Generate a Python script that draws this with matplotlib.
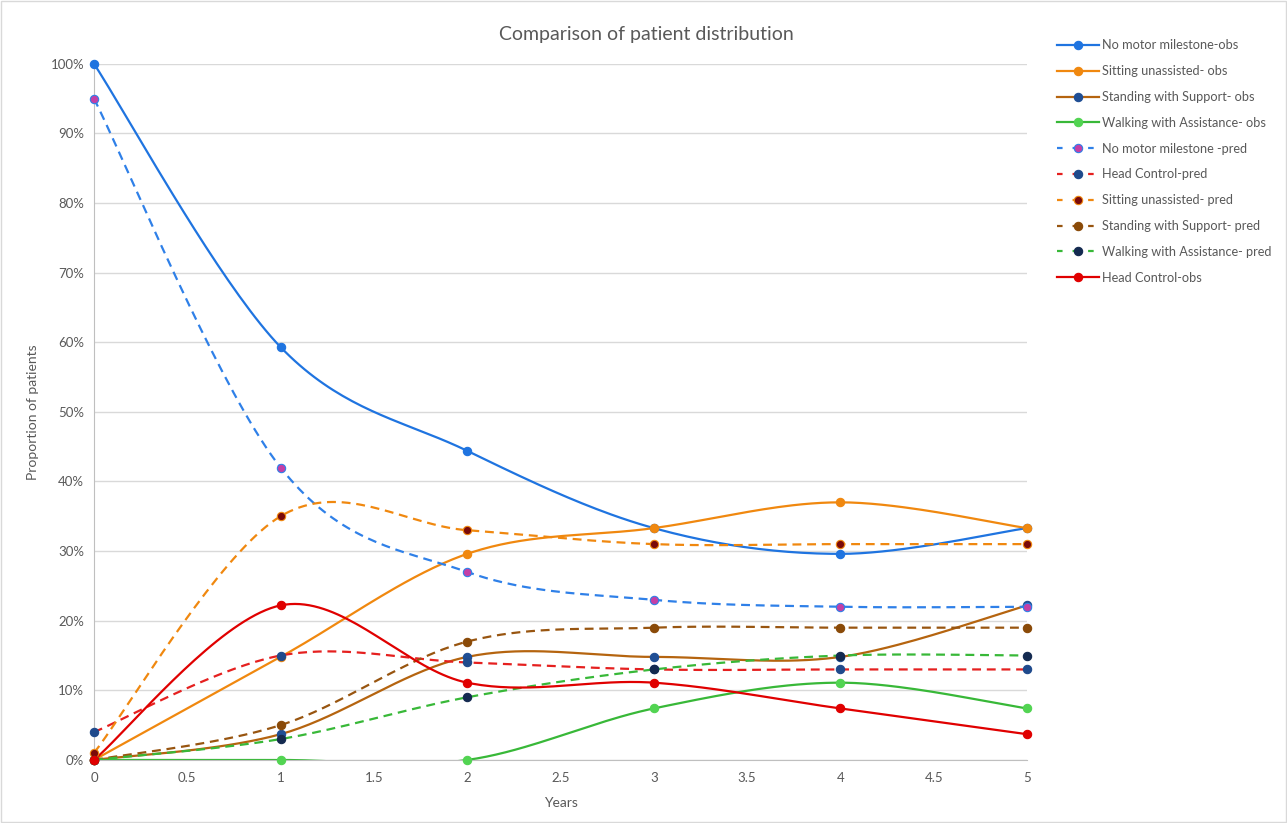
import numpy as np
import matplotlib
matplotlib.use("Agg")
import matplotlib.pyplot as plt
from matplotlib.patches import Rectangle

plt.rcParams['font.family'] = ['Lato', 'DejaVu Sans']

years = [0, 1, 2, 3, 4, 5]

# observed proportions (%)
no_motor_obs = [100, 59.3, 44.4, 33.3, 29.6, 33.3]
sitting_obs = [0, 14.8, 29.6, 33.3, 37.0, 33.3]
standing_obs = [0, 3.7, 14.8, 14.8, 14.8, 22.2]
walking_obs = [0, 0, 0, 7.4, 11.1, 7.4]
head_obs = [0, 22.2, 11.1, 11.1, 7.4, 3.7]

# predicted proportions (%)
no_motor_pred = [95, 42, 27, 23, 22, 22]
head_pred = [4, 15, 14, 13, 13, 13]
sitting_pred = [1, 35, 33, 31, 31, 31]
standing_pred = [0, 5, 17, 19, 19, 19]
walking_pred = [0, 3, 9, 13, 15, 15]


def smooth(x, y, n=40):
    # excel-like smoothed line (catmull-rom bezier)
    x = np.asarray(x, float)
    y = np.asarray(y, float)
    px = np.concatenate([[x[0]], x, [x[-1]]])
    py = np.concatenate([[y[0]], y, [y[-1]]])
    xs, ys = [], []
    t = np.linspace(0, 1, n)
    for i in range(1, len(px) - 2):
        p0 = np.array([px[i], py[i]])
        p3 = np.array([px[i + 1], py[i + 1]])
        c1 = p0 + (p3 - np.array([px[i - 1], py[i - 1]])) / 6
        c2 = p3 - (np.array([px[i + 2], py[i + 2]]) - p0) / 6
        b = ((1 - t) ** 3)[:, None] * p0 + (3 * (1 - t) ** 2 * t)[:, None] * c1 \
            + (3 * (1 - t) * t ** 2)[:, None] * c2 + (t ** 3)[:, None] * p3
        xs.append(b[:, 0])
        ys.append(b[:, 1])
    return np.concatenate(xs), np.concatenate(ys)


series = [
    ("No motor milestone-obs", no_motor_obs, '#1f74e0', '-', '#1f74e0', '#1f74e0'),
    ("Sitting unassisted- obs", sitting_obs, '#f0880f', '-', '#f0880f', '#f0880f'),
    ("Standing with Support- obs", standing_obs, '#b5640f', '-', '#1f4e94', '#1f4e94'),
    ("Walking with Assistance- obs", walking_obs, '#38b838', '-', '#52d452', '#52d452'),
    ("No motor milestone -pred", no_motor_pred, '#2f80e8', '--', '#c33fa6', '#2f80e8'),
    ("Head Control-pred", head_pred, '#e5201f', '--', '#1f4a8c', '#1f4a8c'),
    ("Sitting unassisted- pred", sitting_pred, '#f0880f', '--', '#7a0a0a', '#f0880f'),
    ("Standing with Support- pred", standing_pred, '#985510', '--', '#8a4a08', '#8a4a08'),
    ("Walking with Assistance- pred", walking_pred, '#38b838', '--', '#142a50', '#142a50'),
    ("Head Control-obs", head_obs, '#e00000', '-', '#e00000', '#e00000'),
]

fig = plt.figure(figsize=(12.87, 8.23), dpi=100)
ax = fig.add_axes([0.073, 0.0766, 0.725, 0.846])

handles = []
for name, vals, col, ls, mfc, mec in series:
    yv = np.array(vals) / 100
    sx, sy = smooth(years, yv)
    dash = (4, 2.6) if ls == '--' else None
    if dash:
        ax.plot(sx, sy, color=col, lw=1.6, dashes=dash, zorder=2)
    else:
        ax.plot(sx, sy, color=col, lw=1.6, zorder=2)
    ax.plot(years, yv, ls='none', marker='o', ms=6, mfc=mfc, mec=mec, mew=0.8,
            zorder=3, clip_on=False)
    if dash:
        h, = ax.plot([], [], color=col, lw=1.6, dashes=(2.5, 4.5), marker='o', ms=6,
                     mfc=mfc, mec=mec, mew=0.8, label=name)
    else:
        h, = ax.plot([], [], color=col, lw=1.6, marker='o', ms=6,
                     mfc=mfc, mec=mec, mew=0.8, label=name)
    handles.append(h)

ax.set_xlim(0, 5)
ax.set_ylim(0, 1.0)
ax.set_xticks(np.arange(0, 5.01, 0.5))
ax.set_xticklabels(['0', '0.5', '1', '1.5', '2', '2.5', '3', '3.5', '4', '4.5', '5'])
ax.set_yticks(np.arange(0, 1.01, 0.1))
ax.set_yticklabels([f'{i}%' for i in range(0, 101, 10)])
ax.grid(axis='y', color='#d9d9d9', lw=1)
ax.set_axisbelow(True)
for s in ['top', 'right']:
    ax.spines[s].set_visible(False)
for s in ['left', 'bottom']:
    ax.spines[s].set_color('#bfbfbf')
ax.tick_params(axis='y', colors='#595959', labelsize=9.5, length=0, pad=7)
ax.tick_params(axis='x', colors='#595959', labelsize=9.5, length=0, pad=9)
ax.set_xlabel('Years', color='#595959', fontsize=10, labelpad=9)
ax.set_ylabel('Proportion of patients', color='#595959', fontsize=10, labelpad=8)

fig.text(0.502, 0.958, 'Comparison of patient distribution', ha='center', va='center',
         fontsize=14, color='#595959')

leg = fig.legend(handles=handles, loc='upper left', bbox_to_anchor=(0.812, 0.966),
                 frameon=False, fontsize=9.2, handlelength=3.3, labelspacing=1.08,
                 handletextpad=0.25)
for t in leg.get_texts():
    t.set_color('#595959')

fig.patches.append(Rectangle((0.001, 0.001), 0.998, 0.998, transform=fig.transFigure,
                             fill=False, ec='#d9d9d9', lw=1))

fig.savefig('out.png', dpi=100)
